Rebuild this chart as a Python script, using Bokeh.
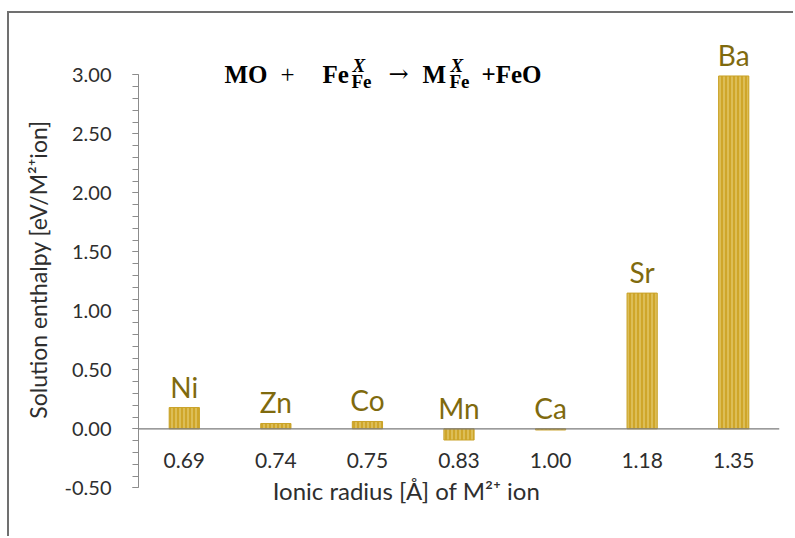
from bokeh.plotting import figure
from bokeh.models import FactorRange, Range1d, FixedTicker, NumeralTickFormatter, Span, Label, ColumnDataSource
from bokeh.core.properties import value
from bokeh.embed import file_html
from bokeh.resources import INLINE

# ---- data ----
elements = ["Ni", "Zn", "Co", "Mn", "Ca", "Sr", "Ba"]
radii = ["0.69", "0.74", "0.75", "0.83", "1.00", "1.18", "1.35"]
enthalpy = [0.18, 0.045, 0.062, -0.095, -0.01, 1.15, 2.99]
y_major = [-0.5, 0.0, 0.5, 1.0, 1.5, 2.0, 2.5, 3.0]
y_minor = [round(-0.5 + 0.1 * i, 2) for i in range(36)]

FONT = "Lato"
SERIF = "Liberation Serif"
LABEL_COLOR = "#7f6a0e"
TEXT_COLOR = "#2e2e2e"

p = figure(width=786, height=525,
           x_range=FactorRange(factors=radii, range_padding=0),
           y_range=Range1d(-0.65, 3.35),
           output_backend="svg", toolbar_location=None,
           x_axis_location=None,
           min_border_left=129, min_border_right=16,
           min_border_top=20, min_border_bottom=33)
p.styles = {"margin-left": "7px", "margin-top": "11px",
            "border-left": "2px solid #707070", "border-top": "2px solid #707070"}
p.outline_line_color = None
p.xgrid.visible = False
p.ygrid.visible = False
p.background_fill_color = "white"
p.border_fill_color = "white"

# y axis
ya = p.yaxis[0]
ya.bounds = (-0.5, 3.0)
ya.ticker = FixedTicker(ticks=y_major, minor_ticks=y_minor)
ya.formatter = NumeralTickFormatter(format="0.00")
ya.axis_line_color = "#8c8c8c"
ya.major_tick_line_color = "#8c8c8c"
ya.minor_tick_line_color = "#8c8c8c"
ya.major_tick_in = 0
ya.major_tick_out = 6
ya.minor_tick_in = 0
ya.minor_tick_out = 6
ya.major_label_standoff = 21
ya.major_label_text_font = FONT
ya.major_label_text_font_size = "20px"
ya.major_label_text_color = TEXT_COLOR
ya.axis_label = "Solution enthalpy [eV/M²⁺ion]"
ya.axis_label_text_font = FONT
ya.axis_label_text_font_size = "23px"
ya.axis_label_text_font_style = "normal"
ya.axis_label_text_color = TEXT_COLOR
ya.axis_label_standoff = 10

# zero line (category axis)
p.add_layout(Span(location=0, dimension="width", line_color="#7a7a7a", line_width=1.3))

# bars
src = ColumnDataSource(dict(r=radii, v=enthalpy, el=elements,
                            ly=[max(v, 0) for v in enthalpy]))
p.vbar(x="r", top="v", bottom=0, width=0.33, source=src,
       fill_color="#cfa62a", line_color="#c9a227", line_width=1,
       hatch_pattern="vertical_line", hatch_color="#ead583",
       hatch_scale=4, hatch_weight=1)

# element labels above bars
p.text(x="r", y="ly", text="el", source=src, y_offset=-21,
       text_align="center", text_baseline="middle",
       text_font=value(FONT), text_font_size="28px", text_color=LABEL_COLOR)

# category (radius) labels just below the zero line
tick_label_y = -0.27
p.text(x=radii, y=[tick_label_y] * len(radii), text=radii,
       text_align="center", text_baseline="middle",
       text_font=value(FONT), text_font_size="21px", text_color=TEXT_COLOR)

# x axis title
p.add_layout(Label(x=395, x_units="canvas", y=-0.52, y_units="data",
                   text="Ionic radius [Å] of M²⁺ ion",
                   text_align="center", text_baseline="middle",
                   text_font=FONT, text_font_size="24px", text_color=TEXT_COLOR))

# reaction equation
base_y, sup_y, sub_y = 3.005, 3.08, 2.945
pieces = [
    (213, base_y, "MO", "25px", "bold", SERIF),
    (269, base_y, "+", "25px", "normal", SERIF),
    (311, base_y, "Fe", "25px", "bold", SERIF),
    (341, sup_y, "X", "19px", "bold italic", SERIF),
    (340, sub_y, "Fe", "19px", "bold", SERIF),
    (377, base_y, "→", "24px", "normal", "DejaVu Serif"),
    (411, base_y, "M", "25px", "bold", SERIF),
    (439, sup_y, "X", "19px", "bold italic", SERIF),
    (438, sub_y, "Fe", "19px", "bold", SERIF),
    (470, base_y, "+FeO", "25px", "bold", SERIF),
]
for x, y, t, fs, style, fnt in pieces:
    p.add_layout(Label(x=x, x_units="canvas", y=y, y_units="data", text=t,
                       text_align="left", text_baseline="alphabetic",
                       text_font=fnt, text_font_size=fs, text_font_style=style,
                       text_color="black"))

open("out.html", "w").write(file_html(p, INLINE))
